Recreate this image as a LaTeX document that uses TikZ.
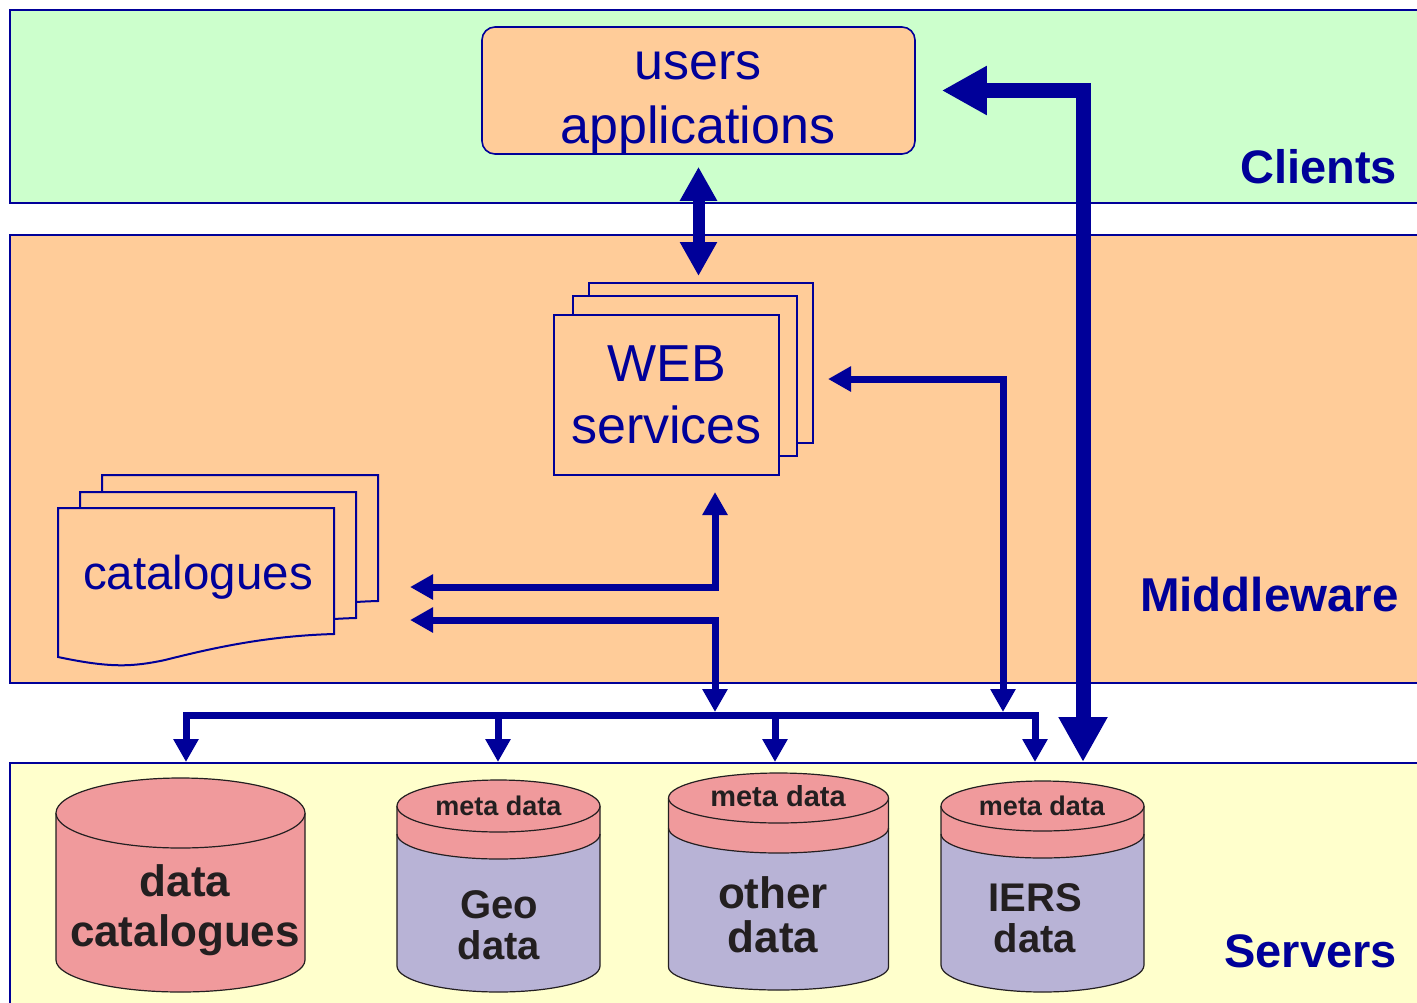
\documentclass[tikz,border=0pt]{standalone}
\usepackage{fontspec}
\setmainfont{Liberation Sans}
\usetikzlibrary{arrows.meta,calc}
\definecolor{navy}{HTML}{000099}
\definecolor{clientbg}{HTML}{CCFFCC}
\definecolor{midbg}{HTML}{FFCC99}
\definecolor{srvbg}{HTML}{FFFFCC}
\definecolor{cylpink}{HTML}{F09A9C}
\definecolor{cylpurple}{HTML}{B8B3D6}
\definecolor{txtdark}{HTML}{231F20}
\tikzset{
  bandbox/.style={draw=navy, line width=2pt},
  navybox/.style={draw=navy, line width=2pt, fill=midbg},
  navytxt/.style={text=navy, inner sep=0pt, align=center},
  cyltxt/.style={text=txtdark, inner sep=0pt, align=center},
  cylline/.style={draw=txtdark, line width=1.2pt},
  flow/.style={draw=navy, line width=7pt, line join=miter,
    {Triangle[length=23pt,width=24pt]}-{Triangle[length=23pt,width=24pt]}},
  oneway/.style={draw=navy, line width=7pt, -{Triangle[length=23pt,width=24pt]}},
  midflow/.style={draw=navy, line width=12pt,
    {Triangle[length=34pt,width=35pt]}-{Triangle[length=34pt,width=35pt]}},
  bigflow/.style={draw=navy, line width=15pt, line join=miter,
    {Triangle[length=45pt,width=46pt]}-{Triangle[length=45pt,width=46pt]}},
}
\newcommand\metacyl[8]{%
  \fill[cylpurple] (#1+#2,#5) -- (#1+#2,#7) arc[start angle=0,end angle=180,x radius=#2,y radius=#8]
     -- (#1-#2,#5) arc[start angle=180,end angle=0,x radius=#2,y radius=#6] -- cycle;
  \fill[cylpink] (#1+#2,#3) -- (#1+#2,#5) arc[start angle=0,end angle=180,x radius=#2,y radius=#6]
     -- (#1-#2,#3) -- cycle;
  \draw[cylline] (#1-#2,#3) -- (#1-#2,#7) arc[start angle=180,end angle=0,x radius=#2,y radius=#8] -- (#1+#2,#3);
  \draw[cylline] (#1+#2,#5) arc[start angle=0,end angle=180,x radius=#2,y radius=#6];
  \draw[cylline, fill=cylpink] (#1,#3) ellipse [x radius=#2, y radius=#4];
}
\newcommand\docshape{(58,508) -- (334,508) -- (334,634) .. controls (262,636) and (205,650) .. (165,660)
   .. controls (132,667) and (110,668) .. (58,657) -- cycle}
\begin{document}
\begin{tikzpicture}[x=1pt,y=-1pt]
\useasboundingbox (0,0) rectangle (1417,1002);
\clip (0,0) rectangle (1417,1002);
\fill[white] (0,0) rectangle (1417,1002);
% bands
\draw[bandbox, fill=clientbg] (10,10) rectangle (1430,203);
\draw[bandbox, fill=midbg] (10,235) rectangle (1430,683);
\draw[bandbox, fill=srvbg] (10,763) rectangle (1430,1012);
\node[navytxt, anchor=base east, font=\fontsize{47pt}{56pt}\selectfont\bfseries] (lclients) at (1397,183) {Clients};
\node[navytxt, anchor=base east, font=\fontsize{47.5pt}{56pt}\selectfont\bfseries] (lmiddle) at (1399,611) {Middleware};
\node[navytxt, anchor=base east, font=\fontsize{47pt}{56pt}\selectfont\bfseries] (lservers) at (1397,967) {Servers};
% users applications
\node[draw=navy, line width=1.6pt, fill=midbg, rounded corners=13pt, minimum width=433pt, minimum height=127pt] (users) at (698.5,90.5) {};
\node[navytxt, font=\fontsize{52pt}{64pt}\selectfont] (userstxt) at (698,103) {users\\applications};
% WEB services stack
\node[navybox, minimum width=224pt, minimum height=160pt] (webback) at (701,363) {};
\node[navybox, minimum width=224pt, minimum height=160pt] (webmid) at (685,376) {};
\node[navybox, navytxt, minimum width=225pt, minimum height=160pt, font=\fontsize{52pt}{62pt}\selectfont] (web) at (666.5,394.5) {WEB\\services};
% catalogues stack
\begin{scope}[shift={(44,-33)}]
  \draw[navybox] \docshape;
\end{scope}
\begin{scope}[shift={(22,-16)}]
  \draw[navybox] \docshape;
\end{scope}
\draw[navybox] \docshape;
\node[navytxt, font=\fontsize{47.5pt}{56pt}\selectfont] (cat) at (198,577) {catalogues};
% cylinders
\fill[cylpink] (305,813) -- (305,960) arc[start angle=0,end angle=180,x radius=124.5,y radius=32] -- (56,813) -- cycle;
\draw[cylline] (56,813) -- (56,960) arc[start angle=180,end angle=0,x radius=124.5,y radius=32] -- (305,813);
\draw[cylline, fill=cylpink] (180.5,813) ellipse [x radius=124.5, y radius=35];
\node[cyltxt, font=\fontsize{44pt}{50pt}\selectfont\bfseries] (datacat) at (185,910) {data\\catalogues};
\metacyl{498.5}{101.5}{806}{26}{834}{25}{966}{26}
\node[cyltxt, anchor=base, font=\fontsize{27pt}{30pt}\selectfont\bfseries] (meta1) at (498.5,815) {meta data};
\node[cyltxt, font=\fontsize{40pt}{41pt}\selectfont\bfseries] (geo) at (499,925.5) {Geo\\data};
\metacyl{778.5}{110}{798}{25}{828}{25}{967}{23}
\node[cyltxt, anchor=base, font=\fontsize{29pt}{32pt}\selectfont\bfseries] (meta2) at (778,806) {meta data};
\node[cyltxt, font=\fontsize{44pt}{44pt}\selectfont\bfseries] (other) at (773,914.5) {other\\data};
\metacyl{1042.5}{101.5}{806}{25}{834}{24}{965}{27}
\node[cyltxt, anchor=base, font=\fontsize{27pt}{30pt}\selectfont\bfseries] (meta3) at (1042,815) {meta data};
\node[cyltxt, font=\fontsize{40pt}{41pt}\selectfont\bfseries] (iers) at (1035,918) {IERS\\data};
% connector points
\coordinate (busL) at (186,715);
\coordinate (busR) at (1035,715);
\coordinate (tipcat) at (186,762);
\coordinate (tipgeo) at (498,762);
\coordinate (tipother) at (775,762);
\coordinate (tipiers) at (1035,762);
\coordinate (thickbot) at (1083,762);
\coordinate (catup) at (410,587);
\coordinate (catlow) at (410,620);
\coordinate (webin) at (715,492);
\coordinate (busin) at (715,712);
\coordinate (webright) at (828,379);
\coordinate (busin2) at (1003,712);
% connectors
\draw[midflow, shorten <=12pt, shorten >=6pt] (users.south) -- (users.south |- webback.north);
\draw[bigflow, shorten >=26pt] (thickbot) |- (users.east);
\draw[flow] (webright) -| (busin2);
\draw[flow] (catup) -| (webin);
\draw[flow] (catlow) -| (busin);
\draw[flow] (tipcat) -- (busL) -- (busR) -- (tipiers);
\draw[oneway] (tipgeo |- busL) -- (tipgeo);
\draw[oneway] (tipother |- busL) -- (tipother);
\end{tikzpicture}
\end{document}
